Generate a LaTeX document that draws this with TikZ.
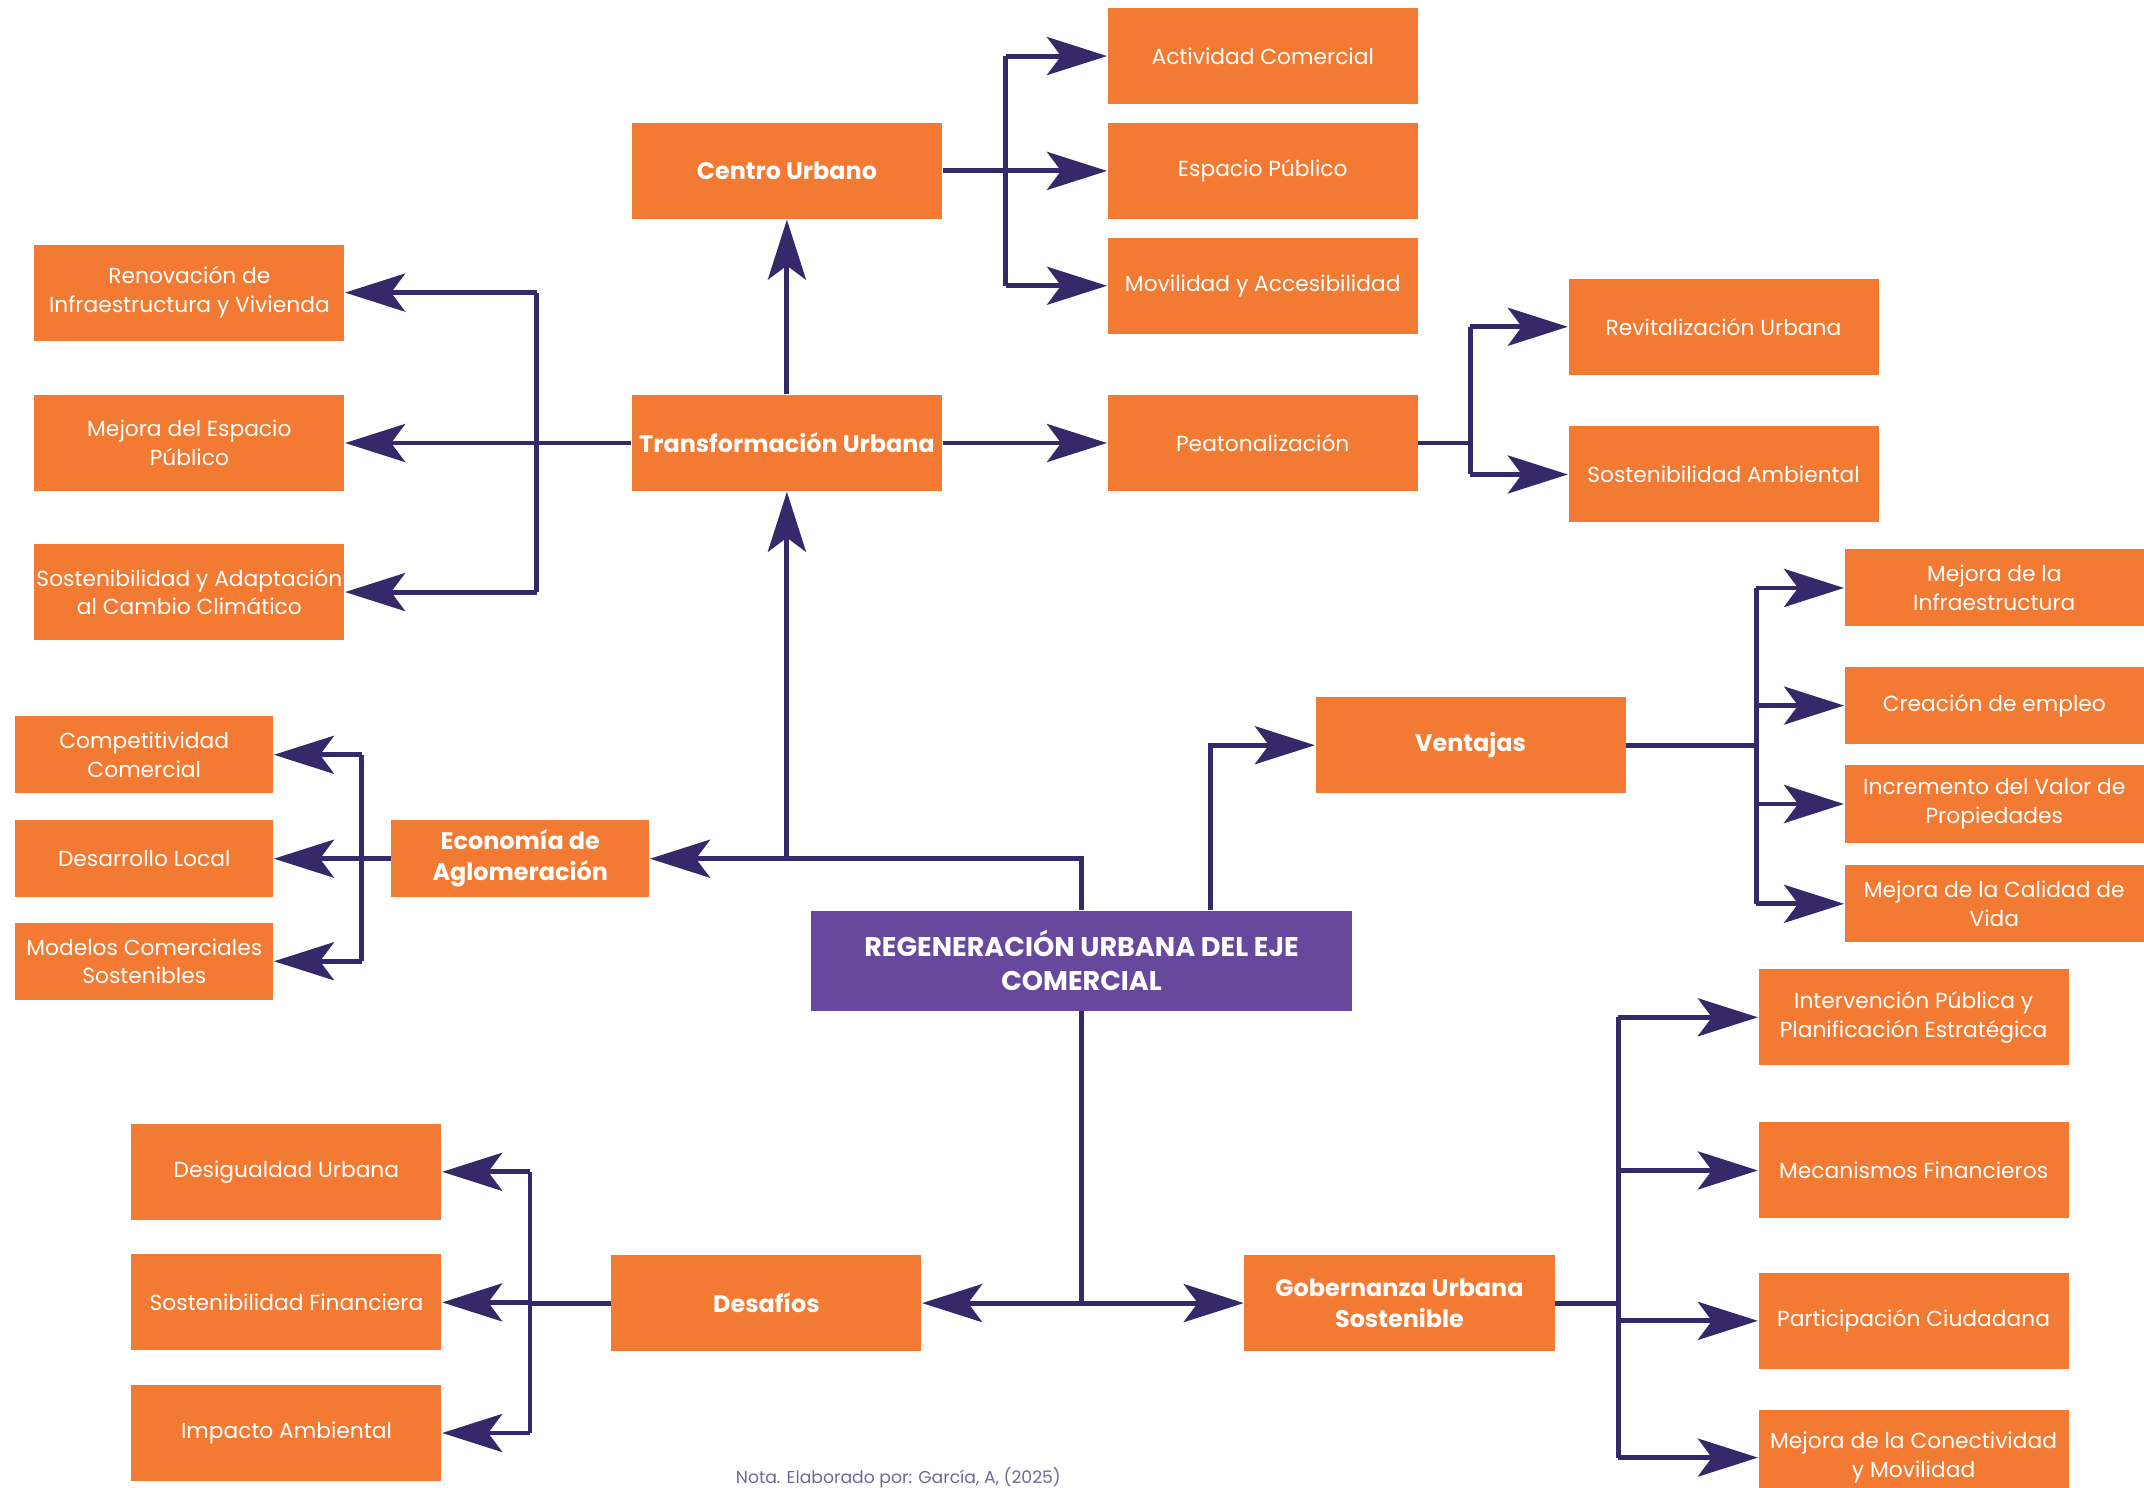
\documentclass[tikz,border=0pt]{standalone}
\usepackage{fontspec}
\setmainfont{Poppins}
\usetikzlibrary{arrows.meta}
\definecolor{boxorange}{HTML}{F27A33}
\definecolor{boxpurple}{HTML}{68489C}
\definecolor{linkblue}{HTML}{35296A}
\definecolor{notegray}{HTML}{716896}
\tikzset{
  box/.style={fill=boxorange, text=white, align=center, inner sep=0.5pt,
    minimum width=3.1cm, minimum height=0.96cm, font=\fontsize{6.2}{8.2}\selectfont},
  smallbox/.style={box, minimum width=2.58cm, minimum height=0.77cm},
  rightbox/.style={box, minimum width=2.99cm, minimum height=0.77cm},
  head/.style={box, font=\fontsize{6.8}{8.9}\selectfont\bfseries},
  hub/.style={head, fill=boxpurple, minimum width=5.41cm, minimum height=1cm,
    font=\fontsize{7.7}{9.6}\selectfont\bfseries},
  note/.style={text=notegray, font=\fontsize{4.9}{6}\selectfont, inner sep=0pt},
  link/.style={draw=linkblue, line width=1.4pt},
  arrow/.style={link, -{Stealth[length=6mm, width=3.8mm, inset=1.4mm]}},
}
\begin{document}
\begin{tikzpicture}[x=0.013673cm, y=-0.013673cm]
  \useasboundingbox (0,0) rectangle (1568,1088);
  \clip (0,0) rectangle (1568,1088);

  % main nodes
  \node (regen) at (791,702.5) [hub] {REGENERACIÓN URBANA DEL EJE\\COMERCIAL};
  \node (trans) at (575.5,324) [head] {Transformación Urbana};
  \node (cu) at (575.5,125) [head] {Centro Urbano};
  \node (econ) at (380.5,628) [head, minimum width=2.58cm, minimum height=0.77cm] {Economía de\\Aglomeración};
  \node (vent) at (1075.5,545) [head] {Ventajas};
  \node (desa) at (560.5,953) [head] {Desafíos};
  \node (gob) at (1023.5,953) [head] {Gobernanza Urbana\\Sostenible};

  % centro urbano
  \node (act) at (923.5,41) [box] {Actividad Comercial};
  \node (esp) at (923.5,125) [box] {Espacio Público};
  \node (mov) at (923.5,209) [box] {Movilidad y Accesibilidad};

  % transformacion urbana
  \node (peat) at (923.5,324) [box] {Peatonalización};
  \node (revi) at (1260.5,239) [box] {Revitalización Urbana};
  \node (sosa) at (1260.5,347) [box] {Sostenibilidad Ambiental};
  \node (reno) at (138.5,214) [box] {Renovación de\\Infraestructura y Vivienda};
  \node (mesp) at (138.5,324) [box] {Mejora del Espacio\\Público};
  \node (adap) at (138.5,433) [box] {Sostenibilidad y Adaptación\\al Cambio Climático};

  % economia de aglomeracion
  \node (comp) at (105.5,552) [smallbox] {Competitividad\\Comercial};
  \node (dlocal) at (105.5,628) [smallbox] {Desarrollo Local};
  \node (model) at (105.5,703) [smallbox] {Modelos Comerciales\\Sostenibles};

  % ventajas
  \node (minf) at (1458.5,430) [rightbox] {Mejora de la\\Infraestructura};
  \node (empl) at (1458.5,516) [rightbox] {Creación de empleo};
  \node (valor) at (1458.5,588) [rightbox] {Incremento del Valor de\\Propiedades};
  \node (vida) at (1458.5,661) [rightbox] {Mejora de la Calidad de\\Vida};

  % desafios
  \node (desi) at (209.5,857) [box] {Desigualdad Urbana};
  \node (sfin) at (209.5,952.5) [box] {Sostenibilidad Financiera};
  \node (impa) at (209.5,1048) [box] {Impacto Ambiental};

  % gobernanza
  \node (inter) at (1399.5,744) [box] {Intervención Pública y\\Planificación Estratégica};
  \node (meca) at (1399.5,856) [box] {Mecanismos Financieros};
  \node (part) at (1399.5,966) [box] {Participación Ciudadana};
  \node (conec) at (1399.5,1066) [box] {Mejora de la Conectividad\\y Movilidad};

  \node (nota) at (657,1081) [note] {Nota. Elaborado por: García, A, (2025)};

  % connectors from the centre
  \draw[arrow] (regen.north) |- (econ.east);
  \draw[arrow] (trans.south |- econ.east) -- (trans.south);
  \draw[arrow] (trans.north) -- (cu.south);
  \draw[arrow] ([xshift=1.285cm]regen.north) |- (vent.west);
  \draw[arrow] (regen.south) |- (desa.east);
  \draw[arrow] (regen.south |- gob.west) -- (gob.west);
  \draw[arrow] (trans.east) -- (peat.west);

  % branches
  \draw[link] (cu.east) -- ++(46,0) coordinate (cubus);
  \draw[link] (cubus |- act.west) -- (cubus |- mov.west);
  \foreach \n in {act,esp,mov}
    \draw[arrow] (cubus |- \n.west) -- (\n.west);

  \draw[link] (trans.west) -- ++(-69,0) coordinate (tbus);
  \draw[link] (tbus |- reno.east) -- (tbus |- adap.east);
  \foreach \n in {reno,mesp,adap}
    \draw[arrow] (tbus |- \n.east) -- (\n.east);

  \draw[link] (peat.east) -- ++(38,0) coordinate (pbus);
  \draw[link] (pbus |- revi.west) -- (pbus |- sosa.west);
  \foreach \n in {revi,sosa}
    \draw[arrow] (pbus |- \n.west) -- (\n.west);

  \draw[link] (vent.east) -- ++(95,0) coordinate (vbus);
  \draw[link] (vbus |- minf.west) -- (vbus |- vida.west);
  \foreach \n in {minf,empl,valor,vida}
    \draw[arrow] (vbus |- \n.west) -- (\n.west);

  \draw[link] (econ.west) -- ++(-21,0) coordinate (ebus);
  \draw[link] (ebus |- comp.east) -- (ebus |- model.east);
  \foreach \n in {comp,dlocal,model}
    \draw[arrow] (ebus |- \n.east) -- (\n.east);

  \draw[link] (desa.west) -- ++(-59,0) coordinate (dbus);
  \draw[link] (dbus |- desi.east) -- (dbus |- impa.east);
  \foreach \n in {desi,sfin,impa}
    \draw[arrow] (dbus |- \n.east) -- (\n.east);

  \draw[link] (gob.east) -- ++(46,0) coordinate (gbus);
  \draw[link] (gbus |- inter.west) -- (gbus |- conec.west);
  \foreach \n in {inter,meca,part,conec}
    \draw[arrow] (gbus |- \n.west) -- (\n.west);
\end{tikzpicture}
\end{document}
